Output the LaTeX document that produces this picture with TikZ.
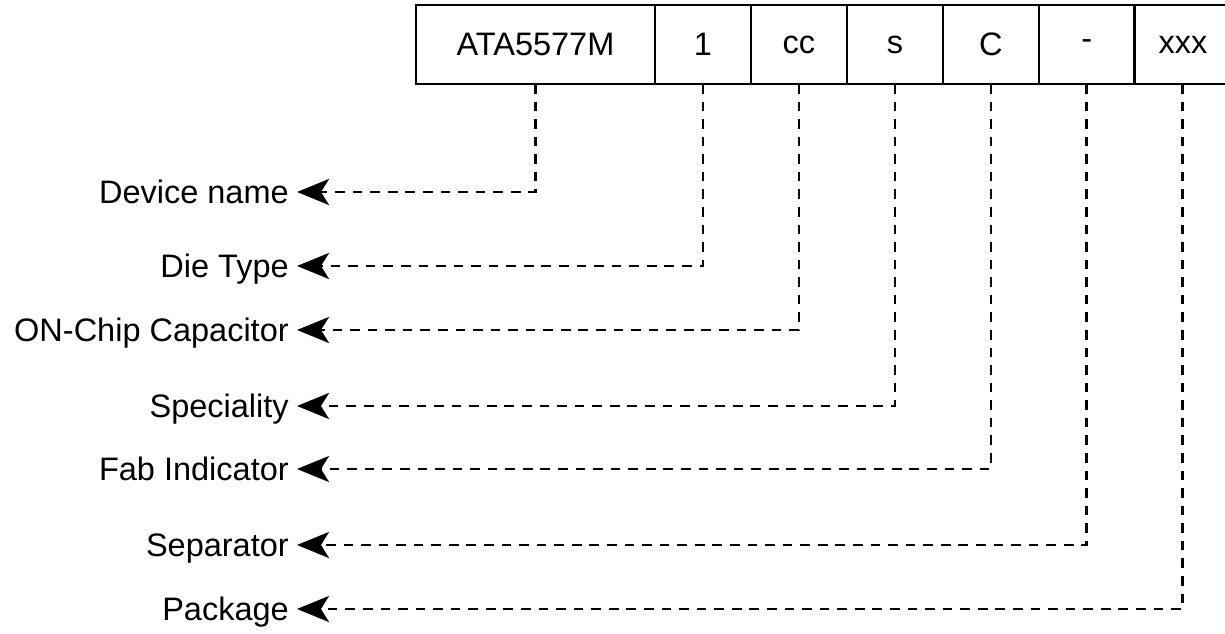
\documentclass[tikz,border=0pt]{standalone}
\usepackage{fontspec}
\setmainfont{Liberation Sans}
\usetikzlibrary{positioning,calc}
\usetikzlibrary{arrows.meta}
\tikzset{
	cell/.style={draw=black,line width=1.6pt,outer sep=0pt,inner sep=0pt,
		minimum height=1.58cm,minimum width=1.92cm,font=\fontsize{18.5}{22}\selectfont},
	tag/.style={anchor=east,inner sep=4.5pt,text height=13.3pt,text depth=0pt,
		font=\fontsize{18.5}{22}\selectfont},
	lead/.style={draw=black,line width=1.6pt,dash pattern=on 5.5pt off 4.5pt,
		-{Stealth[length=0.64cm,width=0.52cm,inset=0.16cm]}},
}

\begin{document}
\begin{tikzpicture}[x=0.02cm,y=-0.02cm]
	\useasboundingbox (0,0) rectangle (1225,634);
	\node[cell,minimum width=4.78cm] (dev) at (535.5,44.5) {ATA5577M};
	\node[cell,right=0pt of dev] (die) {1};
	\node[cell,right=0pt of die] (cap) {cc};
	\node[cell,right=0pt of cap] (spc) {s};
	\node[cell,right=0pt of spc] (fab) {C};
	\node[cell,right=0pt of fab] (sep) {-};
	\node[cell,right=0pt of sep] (pkg) {xxx};
	\foreach \n/\y/\t in {ldev/192/Device name,ldie/266/Die Type,lcap/330/ON-Chip Capacitor,
		lspc/406/Speciality,lfab/469/Fab Indicator,lsep/545/Separator,lpkg/609/Package}
	\node[tag] (\n) at (297,\y) {\t};
	\foreach \c/\l in {dev/ldev,die/ldie,cap/lcap,spc/lspc,fab/lfab,sep/lsep,pkg/lpkg}
	\draw[lead] (\c.south) |- (\l.east);
\end{tikzpicture}
\end{document}
